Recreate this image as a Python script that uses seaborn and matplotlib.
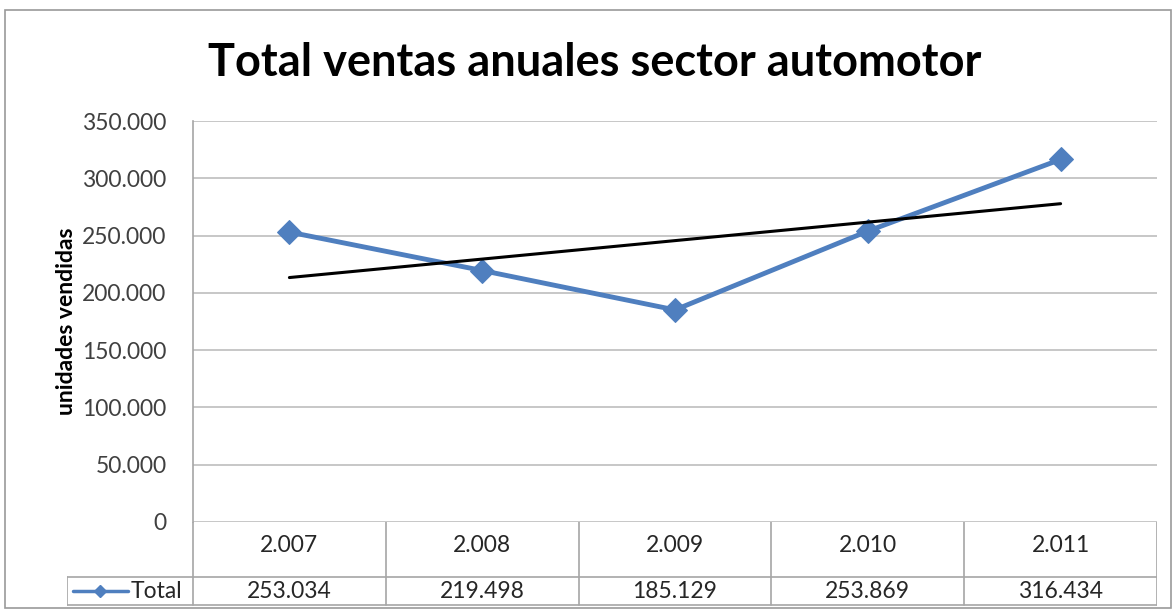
import numpy as np
import pandas as pd
import matplotlib.pyplot as plt
import seaborn as sns
from matplotlib.patches import Rectangle

# Data
years = ['2.007', '2.008', '2.009', '2.010', '2.011']
total = [253034, 219498, 185129, 253869, 316434]
total_labels = ['253.034', '219.498', '185.129', '253.869', '316.434']
yticks = [0, 50000, 100000, 150000, 200000, 250000, 300000, 350000]
ytick_labels = ['0', '50.000', '100.000', '150.000', '200.000', '250.000', '300.000', '350.000']

df = pd.DataFrame({'pos': np.arange(len(years)), 'year': years, 'Total': total})

sns.set_style('white')
plt.rcParams['font.family'] = ['Lato', 'DejaVu Sans']

W, H = 1173, 610
fig = plt.figure(figsize=(W / 100, H / 100), dpi=100)

def fx(px):
    return px / W

def fy(py):
    return 1 - py / H

# outer chart border
fig.patches.append(Rectangle((fx(5), fy(608)), fx(1171) - fx(5), fy(10) - fy(608),
                             transform=fig.transFigure, fill=False,
                             edgecolor='#9a9a9a', linewidth=1.2))

left, right, top, bottom = 193, 1157, 121, 522
ax = fig.add_axes([fx(left), fy(bottom), fx(right) - fx(left), fy(top) - fy(bottom)])

blue = '#4F7FBF'
sns.lineplot(data=df, x='pos', y='Total', ax=ax, color=blue, linewidth=3.5,
             marker='D', markersize=12.5, markeredgecolor=blue, zorder=3)
sns.regplot(data=df, x='pos', y='Total', ax=ax, scatter=False, ci=None,
            line_kws={'color': 'black', 'linewidth': 2.2, 'zorder': 4})

ax.set_xlim(-0.5, len(years) - 0.5)
ax.set_ylim(0, 350000)
ax.set_yticks(yticks)
ax.set_yticklabels(ytick_labels, fontsize=16.5, color='#404040')
ax.set_xticks([])
ax.set_xlabel('')
ax.set_ylabel('unidades vendidas', fontsize=16.5, fontweight='bold', color='black', labelpad=4)
ax.grid(axis='y', color='#bdbdbd', linewidth=1.2)
ax.set_axisbelow(True)
for side in ['top', 'right', 'bottom']:
    ax.spines[side].set_visible(False)
ax.spines['left'].set_color('#a6a6a6')
ax.spines['left'].set_linewidth(1.2)
ax.tick_params(axis='y', length=0, pad=19)

fig.text(fx(595), fy(63), 'Total ventas anuales sector automotor', ha='center', va='center',
         fontsize=32.5, fontweight='bold', color='black')

# data table below the plot
tab = fig.add_axes([fx(67), fy(606), fx(right) - fx(67), fy(bottom) - fy(606)])
tab.set_xlim(67, right)
tab.set_ylim(606, bottom)
tab.axis('off')
grid_c = '#a6a6a6'
col_w = (right - left) / len(years)
row_mid = 577
tab.plot([left, right], [row_mid, row_mid], color=grid_c, lw=1.2)
tab.plot([67, right], [605, 605], color=grid_c, lw=1.2)
tab.plot([67, left], [row_mid, row_mid], color=grid_c, lw=1.2)
tab.plot([67, 67], [row_mid, 605], color=grid_c, lw=1.2)
for i in range(len(years) + 1):
    x = left + i * col_w
    tab.plot([x, x], [bottom, 605], color=grid_c, lw=1.2)
for i, (yr, lab) in enumerate(zip(years, total_labels)):
    cx = left + (i + 0.5) * col_w
    tab.text(cx, 546, yr, ha='center', va='center', fontsize=16.5, color='#262626')
    tab.text(cx, 591, lab, ha='center', va='center', fontsize=16.5, color='#262626')
tab.plot([73, 128], [591, 591], color=blue, lw=2.5)
tab.plot([100], [591], marker='D', markersize=6.5, color=blue)
tab.text(131, 591, 'Total', ha='left', va='center', fontsize=16.5, color='#262626')

fig.savefig('out.png', dpi=100, facecolor='white')
